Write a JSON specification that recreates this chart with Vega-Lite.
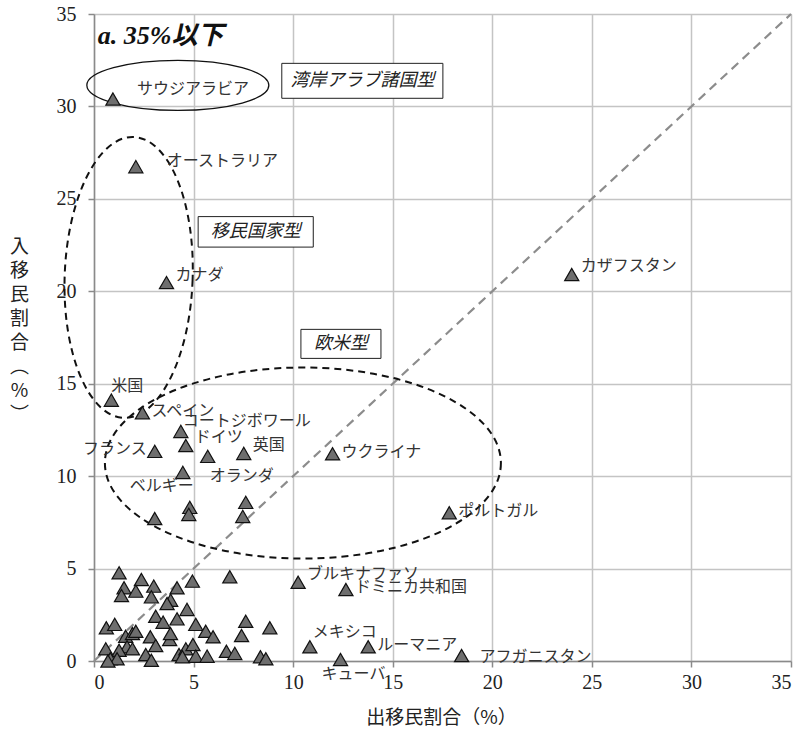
{
  "$schema": "https://vega.github.io/schema/vega-lite/v6.json",
  "width": 697,
  "height": 647,
  "autosize": {"type": "none"},
  "padding": {"left": 94, "top": 14, "right": 15, "bottom": 71},
  "background": "white",
  "config": {
    "view": {"stroke": null},
    "axis": {
      "grid": true,
      "gridColor": "#c4c4c4",
      "gridWidth": 1.5,
      "domainColor": "#8a8a8a",
      "domainWidth": 1.5,
      "tickColor": "#8a8a8a",
      "tickWidth": 1.5,
      "tickSize": 6,
      "labelFont": "Liberation Serif",
      "labelFontSize": 20,
      "labelColor": "#222",
      "titleFont": "Noto Sans CJK JP",
      "titleFontSize": 19,
      "titleFontWeight": "normal",
      "titleColor": "#222"
    }
  },
  "datasets": {
    "pts": [
      {"x": 0.95, "y": 30.4, "name": "サウジアラビア"},
      {"x": 2.1, "y": 26.74, "name": "オーストラリア"},
      {"x": 3.64, "y": 20.47, "name": "カナダ"},
      {"x": 23.99, "y": 20.91, "name": "カザフスタン"},
      {"x": 0.87, "y": 14.11, "name": "米国"},
      {"x": 2.43, "y": 13.43, "name": "スペイン"},
      {"x": 4.36, "y": 12.42, "name": "コートジボワール"},
      {"x": 4.61, "y": 11.66, "name": "ドイツ"},
      {"x": 3.05, "y": 11.34, "name": "フランス"},
      {"x": 5.71, "y": 11.07, "name": "オランダ"},
      {"x": 7.52, "y": 11.23, "name": "英国"},
      {"x": 11.98, "y": 11.21, "name": "ウクライナ"},
      {"x": 4.46, "y": 10.2, "name": "ベルギー"},
      {"x": 17.84, "y": 8.02, "name": "ポルトガル"},
      {"x": 10.25, "y": 4.26, "name": "ブルキナファソ"},
      {"x": 12.65, "y": 3.87, "name": "ドミニカ共和国"},
      {"x": 10.84, "y": 0.77, "name": "メキシコ"},
      {"x": 13.77, "y": 0.77, "name": "ルーマニア"},
      {"x": 18.46, "y": 0.3, "name": "アフガニスタン"},
      {"x": 12.38, "y": 0.08, "name": "キューバ"},
      {"x": 4.81, "y": 8.31, "name": ""},
      {"x": 4.76, "y": 7.93, "name": ""},
      {"x": 7.62, "y": 8.58, "name": ""},
      {"x": 7.47, "y": 7.82, "name": ""},
      {"x": 3.05, "y": 7.71, "name": ""},
      {"x": 1.26, "y": 4.77, "name": ""},
      {"x": 2.38, "y": 4.41, "name": ""},
      {"x": 1.51, "y": 3.96, "name": ""},
      {"x": 3.0, "y": 4.05, "name": ""},
      {"x": 2.1, "y": 3.78, "name": ""},
      {"x": 1.38, "y": 3.54, "name": ""},
      {"x": 2.88, "y": 3.47, "name": ""},
      {"x": 4.17, "y": 3.96, "name": ""},
      {"x": 4.94, "y": 4.32, "name": ""},
      {"x": 6.82, "y": 4.56, "name": ""},
      {"x": 3.85, "y": 3.29, "name": ""},
      {"x": 3.67, "y": 3.11, "name": ""},
      {"x": 4.67, "y": 2.79, "name": ""},
      {"x": 3.1, "y": 2.42, "name": ""},
      {"x": 4.17, "y": 2.28, "name": ""},
      {"x": 3.47, "y": 2.1, "name": ""},
      {"x": 5.11, "y": 1.98, "name": ""},
      {"x": 7.62, "y": 2.15, "name": ""},
      {"x": 8.83, "y": 1.8, "name": ""},
      {"x": 0.62, "y": 1.8, "name": ""},
      {"x": 1.04, "y": 1.98, "name": ""},
      {"x": 5.61, "y": 1.61, "name": ""},
      {"x": 5.98, "y": 1.31, "name": ""},
      {"x": 7.41, "y": 1.38, "name": ""},
      {"x": 1.59, "y": 1.34, "name": ""},
      {"x": 1.93, "y": 1.49, "name": ""},
      {"x": 2.1, "y": 1.61, "name": ""},
      {"x": 2.83, "y": 1.31, "name": ""},
      {"x": 3.8, "y": 1.16, "name": ""},
      {"x": 3.84, "y": 1.49, "name": ""},
      {"x": 3.1, "y": 0.84, "name": ""},
      {"x": 0.59, "y": 0.66, "name": ""},
      {"x": 1.66, "y": 0.77, "name": ""},
      {"x": 1.93, "y": 0.66, "name": ""},
      {"x": 1.26, "y": 0.58, "name": ""},
      {"x": 2.6, "y": 0.35, "name": ""},
      {"x": 2.88, "y": 0.04, "name": ""},
      {"x": 0.82, "y": 0.12, "name": ""},
      {"x": 1.16, "y": 0.12, "name": ""},
      {"x": 0.7, "y": 0.0, "name": ""},
      {"x": 4.27, "y": 0.35, "name": ""},
      {"x": 4.61, "y": 0.66, "name": ""},
      {"x": 4.97, "y": 0.89, "name": ""},
      {"x": 4.44, "y": 0.23, "name": ""},
      {"x": 5.11, "y": 0.26, "name": ""},
      {"x": 5.68, "y": 0.26, "name": ""},
      {"x": 6.65, "y": 0.53, "name": ""},
      {"x": 7.07, "y": 0.41, "name": ""},
      {"x": 8.36, "y": 0.23, "name": ""},
      {"x": 8.63, "y": 0.12, "name": ""}
    ],
    "boxes": [
      {"x": 9.43, "x2": 17.52, "y": 32.33, "y2": 30.44, "tx": 13.48, "ty": 31.39, "text": "湾岸アラブ諸国型"},
      {"x": 5.23, "x2": 11.01, "y": 24.04, "y2": 22.39, "tx": 8.12, "ty": 23.21, "text": "移民国家型"},
      {"x": 10.39, "x2": 14.41, "y": 17.94, "y2": 16.37, "tx": 12.4, "ty": 17.15, "text": "欧米型"}
    ]
  },
  "encoding": {
    "x": {
      "field": "x", "type": "quantitative",
      "scale": {"domain": [0, 35], "nice": false, "zero": false},
      "axis": {
        "values": [0, 5, 10, 15, 20, 25, 30, 35],
        "labelPadding": 5,
        "title": "出移民割合（%）",
        "titleX": 347, "titleY": 62, "titleBaseline": "alphabetic", "titleAnchor": null
      }
    },
    "y": {
      "field": "y", "type": "quantitative",
      "scale": {"domain": [0, 35], "nice": false, "zero": false},
      "axis": {
        "values": [0, 5, 10, 15, 20, 25, 30, 35],
        "labelPadding": 12,
        "title": ["入", "移", "民", "割", "合", "︵", "%", "︶"],
        "titleAngle": 0,
        "titleAlign": "center",
        "titleBaseline": "alphabetic",
        "titleX": -75, "titleY": 238,
        "titleLineHeight": 24
      }
    }
  },
  "layer": [
    {
      "data": {"values": [{"x": 0, "y": 0}, {"x": 35, "y": 35}]},
      "mark": {"type": "line", "color": "#8c8c8c", "strokeWidth": 2.2, "strokeDash": [9, 6]}
    },
    {
      "data": {"values": [{"x": 4.21, "y": 31.14}]},
      "mark": {"type": "point", "filled": false, "stroke": "#111", "strokeWidth": 1.3, "size": 33124, "opacity": 1,
        "shape": "M1,0C1,0.1517,0.5523,0.2747,0,0.2747C-0.5523,0.2747,-1,0.1517,-1,0C-1,-0.1517,-0.5523,-0.2747,0,-0.2747C0.5523,-0.2747,1,-0.1517,1,0Z"}
    },
    {
      "data": {"values": [{"x": 1.74, "y": 20.75}]},
      "mark": {"type": "point", "filled": false, "stroke": "#111", "strokeWidth": 2, "strokeDash": [7, 5], "size": 78961, "opacity": 1, "angle": 2,
        "shape": "M0.4555,0C0.4555,0.5523,0.2516,1,0,1C-0.2516,1,-0.4555,0.5523,-0.4555,0C-0.4555,-0.5523,-0.2516,-1,0,-1C0.2516,-1,0.4555,-0.5523,0.4555,0Z"}
    },
    {
      "data": {"values": [{"x": 10.49, "y": 10.71}]},
      "mark": {"type": "point", "filled": false, "stroke": "#111", "strokeWidth": 2, "strokeDash": [7, 5], "size": 156816, "opacity": 1,
        "shape": "M1,0C1,0.2664,0.5523,0.4823,0,0.4823C-0.5523,0.4823,-1,0.2664,-1,0C-1,-0.2664,-0.5523,-0.4823,0,-0.4823C0.5523,-0.4823,1,-0.2664,1,0Z"}
    },
    {
      "data": {"name": "boxes"},
      "mark": {"type": "rect", "fill": "#777", "xOffset": 2, "yOffset": 2},
      "encoding": {"x": {"field": "x", "type": "quantitative"}, "x2": {"field": "x2"}, "y": {"field": "y", "type": "quantitative"}, "y2": {"field": "y2"}}
    },
    {
      "data": {"name": "boxes"},
      "mark": {"type": "rect", "fill": "white", "stroke": "#222", "strokeWidth": 1},
      "encoding": {"x": {"field": "x", "type": "quantitative"}, "x2": {"field": "x2"}, "y": {"field": "y", "type": "quantitative"}, "y2": {"field": "y2"}}
    },
    {
      "data": {"name": "boxes"},
      "mark": {"type": "text", "font": "Noto Sans CJK JP", "fontSize": 18, "fontStyle": "italic", "color": "#222", "align": "center", "baseline": "middle"},
      "encoding": {"x": {"field": "tx", "type": "quantitative"}, "y": {"field": "ty", "type": "quantitative"}, "text": {"field": "text"}}
    },
    {
      "data": {"values": [{"x": 0.19, "y": 33.79, "text": "a. 35%以下"}]},
      "mark": {"type": "text", "font": "Liberation Serif, Noto Sans CJK JP", "fontSize": 26, "fontStyle": "italic", "fontWeight": "bold", "color": "#111", "align": "left", "baseline": "middle"},
      "encoding": {"text": {"field": "text"}}
    },
    {
      "data": {"name": "pts"},
      "mark": {"type": "point", "shape": "triangle-up", "filled": true, "fill": "#6e6e6e", "stroke": "#111", "strokeWidth": 1.2, "size": 200, "opacity": 1}
    },
    {
      "data": {"name": "pts"},
      "transform": [{"filter": {"field": "name", "oneOf": ["カナダ", "カザフスタン", "英国", "ブルキナファソ", "ドイツ"]}}],
      "mark": {"type": "text", "font": "Noto Sans CJK JP", "fontSize": 16, "color": "#333", "align": "left", "baseline": "middle", "dx": 9, "dy": -8},
      "encoding": {"text": {"field": "name"}}
    },
    {
      "data": {"name": "pts"},
      "transform": [{"filter": {"field": "name", "oneOf": ["スペイン", "ウクライナ", "ポルトガル", "ドミニカ共和国", "ルーマニア"]}}],
      "mark": {"type": "text", "font": "Noto Sans CJK JP", "fontSize": 16, "color": "#333", "align": "left", "baseline": "middle", "dx": 9, "dy": -2},
      "encoding": {"text": {"field": "name"}}
    },
    {
      "data": {"name": "pts"},
      "transform": [{"filter": {"field": "name", "equal": "サウジアラビア"}}],
      "mark": {"type": "text", "font": "Noto Sans CJK JP", "fontSize": 16, "color": "#333", "align": "left", "baseline": "middle", "dx": 24, "dy": -10},
      "encoding": {"text": {"field": "name"}}
    },
    {
      "data": {"name": "pts"},
      "transform": [{"filter": {"field": "name", "equal": "オーストラリア"}}],
      "mark": {"type": "text", "font": "Noto Sans CJK JP", "fontSize": 16, "color": "#333", "align": "left", "baseline": "middle", "dx": 31, "dy": -6},
      "encoding": {"text": {"field": "name"}}
    },
    {
      "data": {"name": "pts"},
      "transform": [{"filter": {"field": "name", "equal": "米国"}}],
      "mark": {"type": "text", "font": "Noto Sans CJK JP", "fontSize": 16, "color": "#333", "align": "left", "baseline": "middle", "dx": 0, "dy": -14},
      "encoding": {"text": {"field": "name"}}
    },
    {
      "data": {"name": "pts"},
      "transform": [{"filter": {"field": "name", "equal": "コートジボワール"}}],
      "mark": {"type": "text", "font": "Noto Sans CJK JP", "fontSize": 16, "color": "#333", "align": "left", "baseline": "middle", "dx": 2, "dy": -10},
      "encoding": {"text": {"field": "name"}}
    },
    {
      "data": {"name": "pts"},
      "transform": [{"filter": {"field": "name", "equal": "フランス"}}],
      "mark": {"type": "text", "font": "Noto Sans CJK JP", "fontSize": 16, "color": "#333", "align": "right", "baseline": "middle", "dx": -8, "dy": -2},
      "encoding": {"text": {"field": "name"}}
    },
    {
      "data": {"name": "pts"},
      "transform": [{"filter": {"field": "name", "equal": "オランダ"}}],
      "mark": {"type": "text", "font": "Noto Sans CJK JP", "fontSize": 16, "color": "#333", "align": "left", "baseline": "middle", "dx": 2, "dy": 20},
      "encoding": {"text": {"field": "name"}}
    },
    {
      "data": {"name": "pts"},
      "transform": [{"filter": {"field": "name", "equal": "ベルギー"}}],
      "mark": {"type": "text", "font": "Noto Sans CJK JP", "fontSize": 16, "color": "#333", "align": "left", "baseline": "middle", "dx": -53, "dy": 14},
      "encoding": {"text": {"field": "name"}}
    },
    {
      "data": {"name": "pts"},
      "transform": [{"filter": {"field": "name", "equal": "メキシコ"}}],
      "mark": {"type": "text", "font": "Noto Sans CJK JP", "fontSize": 16, "color": "#333", "align": "left", "baseline": "middle", "dx": 3, "dy": -15},
      "encoding": {"text": {"field": "name"}}
    },
    {
      "data": {"name": "pts"},
      "transform": [{"filter": {"field": "name", "equal": "アフガニスタン"}}],
      "mark": {"type": "text", "font": "Noto Sans CJK JP", "fontSize": 16, "color": "#333", "align": "left", "baseline": "middle", "dx": 18, "dy": 2},
      "encoding": {"text": {"field": "name"}}
    },
    {
      "data": {"name": "pts"},
      "transform": [{"filter": {"field": "name", "equal": "キューバ"}}],
      "mark": {"type": "text", "font": "Noto Sans CJK JP", "fontSize": 16, "color": "#333", "align": "left", "baseline": "middle", "dx": -19, "dy": 14},
      "encoding": {"text": {"field": "name"}}
    }
  ]
}
